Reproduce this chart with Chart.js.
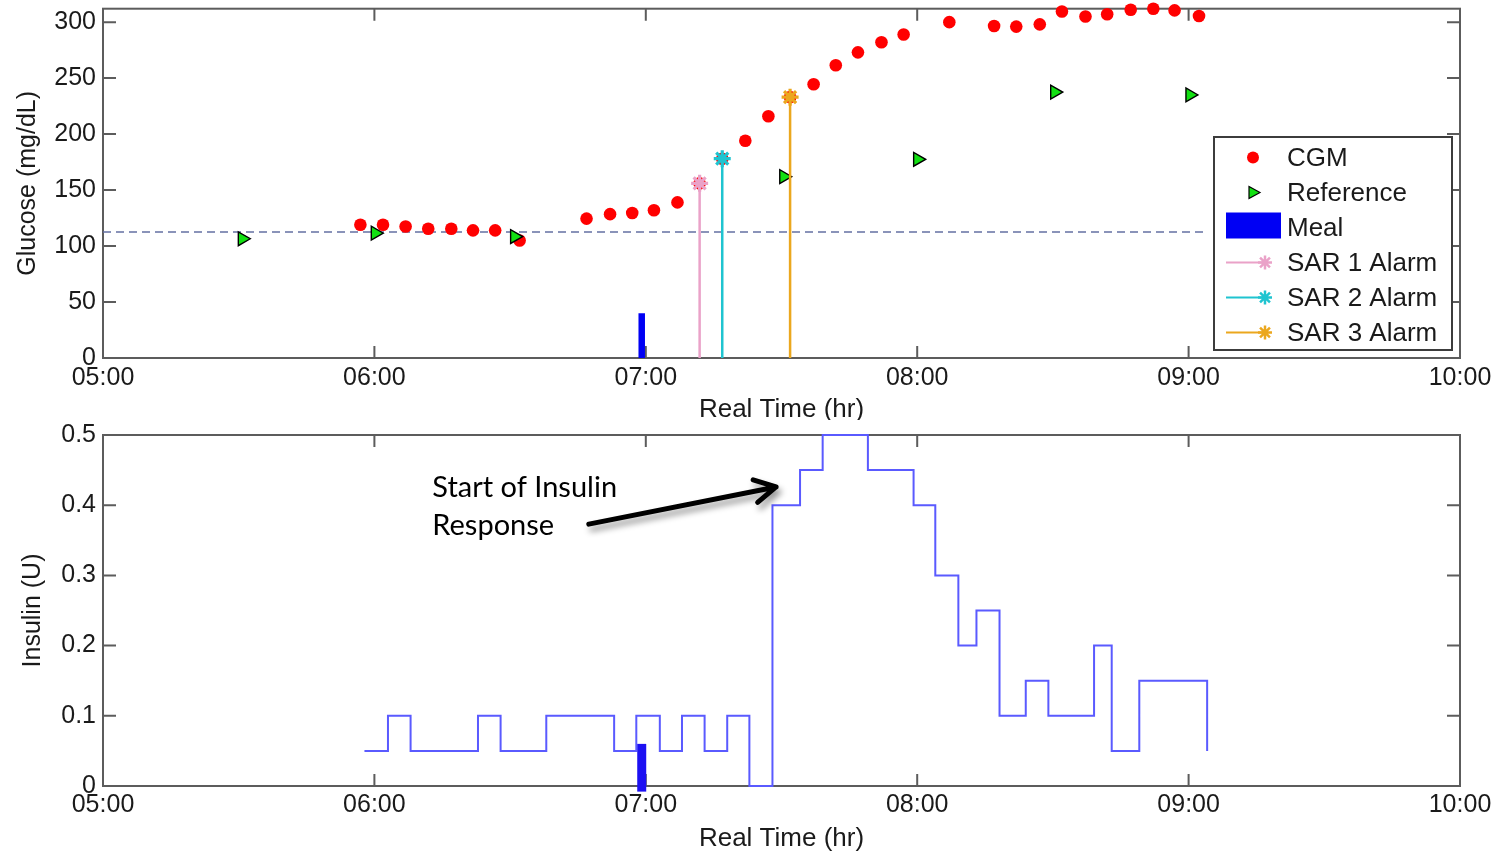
<!DOCTYPE html>
<html>
<head>
<meta charset="utf-8">
<script src="https://cdn.jsdelivr.net/npm/chart.js@4.4.0/dist/chart.umd.min.js"></script>
<style>
  html, body { margin: 0; padding: 0; background: #fff; }
  #wrap { position: relative; width: 1505px; height: 852px; overflow: hidden; }
  canvas { position: absolute; left: 0; }
  #glucose { top: -3px; }
  #insulin { top: 420px; }
</style>
</head>
<body>
<div id="wrap">
  <canvas id="glucose" width="1505" height="423"></canvas>
  <canvas id="insulin" width="1505" height="432"></canvas>
</div>
<script>
// time is in minutes after 05:00
const xTickValues = [0, 60, 120, 180, 240, 300];
const xTickLabels = ['05:00', '06:00', '07:00', '08:00', '09:00', '10:00'];
const glucoseTicks = [0, 50, 100, 150, 200, 250, 300];
const glucoseTickLabels = ['0', '50', '100', '150', '200', '250', '300'];
const insulinTicks = [0, 0.1, 0.2, 0.3, 0.4, 0.5];
const insulinTickLabels = ['0', '0.1', '0.2', '0.3', '0.4', '0.5'];

// CGM readings
const cgmTimes = [56.9, 61.9, 66.9, 71.9, 77, 81.8, 86.7, 92.1, 106.9, 112.1, 117, 121.8, 127, 131.9,
  136.9, 142, 147.1, 151.9, 157.1, 162, 166.9, 172.1, 177, 187.1, 197, 201.9, 207.1, 212, 217.2,
  222, 227.2, 232.2, 236.9, 242.3];
const cgmValues = [119, 119, 117.5, 115.5, 115.5, 114, 114, 105, 124.5, 128.5, 129.5, 132, 139, 156,
  178, 194, 216, 233, 244.5, 261.5, 273, 282, 289, 300, 296.5, 296, 298, 309.5, 305, 307, 311, 312,
  310.5, 305.5];

// reference (finger stick) readings
const refTimes = [30.8, 60.2, 91, 150.5, 180.1, 210.4, 240.3];
const refValues = [106.5, 111.5, 108.5, 162, 177.5, 237.5, 235];

// dashed target line
const targetTimes = [0, 243.7];
const targetValues = [112.5, 112.5];

// meal
const mealTime = 119.1;
const mealGlucoseMark = 40;
const mealInsulinMark = 0.06;
const mealInsulinBase = -0.008;

// SAR alarms
const alarmNames = ['SAR 1 Alarm', 'SAR 2 Alarm', 'SAR 3 Alarm'];
const alarmTimes = [131.9, 136.9, 151.9];
const alarmValues = [156, 178, 233];
const alarmColors = ['#eaa2c8', '#1fc4d0', '#eba71e'];

// insulin delivery (value holds until the next time)
const insulinTimes = [57.8, 63, 68, 82.9, 87.9, 98, 113, 117.9, 123.1, 128, 133, 138, 142.9, 148,
  154.1, 159.1, 169.1, 179.2, 184, 189.1, 193.1, 198.2, 204, 209, 219.1, 223, 229.1, 244.1];
const insulinDoses = [0.05, 0.1, 0.05, 0.1, 0.05, 0.1, 0.05, 0.1, 0.05, 0.1, 0.05, 0.1, 0, 0.4,
  0.45, 0.5, 0.45, 0.4, 0.3, 0.2, 0.25, 0.1, 0.15, 0.1, 0.2, 0.05, 0.15, 0.05];

// annotation
const noteLines = ['Start of Insulin', 'Response'];
const noteTime = 72.8;
const noteLineValues = [0.412, 0.357];
const arrowFrom = { x: 107.4, y: 0.373 };
const arrowTo = { x: 148.8, y: 0.426 };

const FONT = '"Liberation Sans", Arial, Helvetica, sans-serif';
const INK = '#1a1a1a';
const FRAME = '#5c5c5c';

const pts = (xs, ys) => xs.map((x, i) => ({ x: x, y: ys[i] }));

function xAxis(height, tickPad, titlePad) {
  return {
    type: 'linear', min: 0, max: 300,
    grid: { display: false, drawTicks: false },
    border: { display: false },
    afterBuildTicks: s => { s.ticks = xTickValues.map(v => ({ value: v })); },
    afterFit: s => { s.height = height; s.paddingLeft = 0; s.paddingRight = 0; },
    ticks: {
      autoSkip: false, maxRotation: 0, minRotation: 0, padding: tickPad, color: INK,
      font: { family: FONT, size: 25, lineHeight: 1.2 },
      callback: (v, i) => xTickLabels[i]
    },
    title: {
      display: true, text: 'Real Time (hr)', color: INK,
      font: { family: FONT, size: 26, lineHeight: 1 },
      padding: { top: 0, bottom: titlePad }
    }
  };
}

function yAxis(max, ticks, labels, title, titlePad) {
  return {
    type: 'linear', min: 0, max: max,
    grid: { display: false, drawTicks: false },
    border: { display: false },
    afterBuildTicks: s => { s.ticks = ticks.map(v => ({ value: v })); },
    afterFit: s => { s.width = 103; s.paddingTop = 0; s.paddingBottom = 0; },
    ticks: {
      autoSkip: false, padding: 7, color: INK,
      font: { family: FONT, size: 25, lineHeight: 1.2 },
      callback: (v, i) => labels[i]
    },
    title: {
      display: true, text: title, color: INK,
      font: { family: FONT, size: 25, lineHeight: 1 },
      padding: { top: titlePad, bottom: 0 }
    }
  };
}

// box around the axes with inward ticks on every side
const axesBox = {
  id: 'axesBox',
  beforeDatasetsDraw(chart) {
    const { ctx, chartArea: a, scales: { x, y } } = chart;
    ctx.save();
    ctx.strokeStyle = FRAME;
    ctx.lineWidth = 2;
    ctx.strokeRect(a.left, a.top, a.right - a.left, a.bottom - a.top);
    ctx.beginPath();
    x.ticks.forEach(t => {
      const px = x.getPixelForValue(t.value);
      if (px <= a.left + 1 || px >= a.right - 1) return;
      ctx.moveTo(px, a.bottom); ctx.lineTo(px, a.bottom - 12);
      ctx.moveTo(px, a.top); ctx.lineTo(px, a.top + 12);
    });
    y.ticks.forEach(t => {
      const py = y.getPixelForValue(t.value);
      if (py >= a.bottom - 1 || py <= a.top + 1) return;
      ctx.moveTo(a.left, py); ctx.lineTo(a.left + 13, py);
      ctx.moveTo(a.right, py); ctx.lineTo(a.right - 13, py);
    });
    ctx.stroke();
    ctx.restore();
  }
};

function drawStar(ctx, x, y, r, color) {
  ctx.save();
  ctx.strokeStyle = color;
  ctx.lineWidth = 2.5;
  ctx.beginPath();
  for (let k = 0; k < 4; k++) {
    const ang = k * Math.PI / 4;
    ctx.moveTo(x - Math.cos(ang) * r, y - Math.sin(ang) * r);
    ctx.lineTo(x + Math.cos(ang) * r, y + Math.sin(ang) * r);
  }
  ctx.stroke();
  ctx.restore();
}

// legend box in the lower right corner of the glucose axes
const glucoseLegend = {
  id: 'glucoseLegend',
  afterDraw(chart) {
    const { ctx, chartArea: a } = chart;
    const w = 238, h = 213;
    const x0 = a.right - 8 - w, y0 = a.bottom - 8 - h;
    ctx.save();
    ctx.fillStyle = '#fff';
    ctx.fillRect(x0, y0, w, h);
    ctx.strokeStyle = '#3c3c3c';
    ctx.lineWidth = 2;
    ctx.strokeRect(x0, y0, w, h);
    const items = chart.data.datasets.filter(d => d.legendSymbol);
    ctx.font = '26px ' + FONT;
    ctx.textBaseline = 'middle';
    ctx.textAlign = 'left';
    items.forEach((d, i) => {
      const cy = y0 + 20.5 + i * 35;
      if (d.legendSymbol === 'dot') {
        ctx.fillStyle = d.pointBackgroundColor;
        ctx.beginPath(); ctx.arc(x0 + 39, cy, 6, 0, Math.PI * 2); ctx.fill();
      } else if (d.legendSymbol === 'triangle') {
        ctx.fillStyle = d.pointBackgroundColor;
        ctx.strokeStyle = '#000';
        ctx.lineWidth = 1.2;
        ctx.beginPath();
        ctx.moveTo(x0 + 46, cy);
        ctx.lineTo(x0 + 35, cy - 6);
        ctx.lineTo(x0 + 35, cy + 6);
        ctx.closePath(); ctx.fill(); ctx.stroke();
      } else if (d.legendSymbol === 'bar') {
        ctx.fillStyle = d.borderColor;
        ctx.fillRect(x0 + 12, cy - 15, 55, 26);
      } else if (d.legendSymbol === 'stem') {
        ctx.strokeStyle = d.borderColor;
        ctx.lineWidth = 2;
        ctx.beginPath(); ctx.moveTo(x0 + 12, cy); ctx.lineTo(x0 + 50, cy); ctx.stroke();
        drawStar(ctx, x0 + 51, cy, 7, d.borderColor);
      }
      ctx.fillStyle = INK;
      ctx.fillText(d.label, x0 + 73, cy + 1);
    });
    ctx.restore();
  }
};

// text and arrow on the insulin axes
const insulinNote = {
  id: 'insulinNote',
  afterDraw(chart) {
    const { ctx, scales: { x, y } } = chart;
    ctx.save();
    ctx.fillStyle = '#000';
    ctx.font = '29px Lato, "Open Sans", sans-serif';
    ctx.textBaseline = 'alphabetic';
    ctx.textAlign = 'left';
    noteLines.forEach((s, i) => ctx.fillText(s, x.getPixelForValue(noteTime), y.getPixelForValue(noteLineValues[i])));

    const x1 = x.getPixelForValue(arrowFrom.x), y1 = y.getPixelForValue(arrowFrom.y);
    const x2 = x.getPixelForValue(arrowTo.x), y2 = y.getPixelForValue(arrowTo.y);
    const back = Math.atan2(y1 - y2, x1 - x2);
    const len = 24, spread = 0.5;
    ctx.shadowColor = 'rgba(0,0,0,0.4)';
    ctx.shadowBlur = 6;
    ctx.shadowOffsetX = 3;
    ctx.shadowOffsetY = 5;
    ctx.strokeStyle = '#000';
    ctx.lineWidth = 5;
    ctx.lineCap = 'round';
    ctx.lineJoin = 'round';
    ctx.beginPath();
    ctx.moveTo(x1, y1); ctx.lineTo(x2, y2);
    ctx.moveTo(x2 + Math.cos(back + spread) * len, y2 + Math.sin(back + spread) * len);
    ctx.lineTo(x2, y2);
    ctx.lineTo(x2 + Math.cos(back - spread) * len, y2 + Math.sin(back - spread) * len);
    ctx.stroke();
    ctx.restore();
  }
};

const glucoseDatasets = [
  {
    label: 'CGM', legendSymbol: 'dot',
    data: pts(cgmTimes, cgmValues),
    pointStyle: 'circle', pointRadius: 6.3, pointBorderWidth: 0,
    pointBackgroundColor: '#ff0000', pointBorderColor: '#ff0000',
    showLine: false, clip: false, order: 2
  },
  {
    label: 'Reference', legendSymbol: 'triangle',
    data: pts(refTimes, refValues),
    pointStyle: 'triangle', pointRotation: 90, pointRadius: 8, pointBorderWidth: 1.4,
    pointBackgroundColor: '#12e012', pointBorderColor: '#000',
    showLine: false, order: 1
  },
  {
    label: 'Meal', legendSymbol: 'bar',
    data: [{ x: mealTime, y: 0 }, { x: mealTime, y: mealGlucoseMark }],
    showLine: true, borderColor: '#0000f4', borderWidth: 6.5, borderCapStyle: 'butt',
    pointRadius: 0, order: 4
  }
];
alarmNames.forEach((name, i) => {
  glucoseDatasets.push({
    label: name, legendSymbol: 'stem',
    data: [{ x: alarmTimes[i], y: 0 }, { x: alarmTimes[i], y: alarmValues[i] }],
    showLine: true, borderColor: alarmColors[i], borderWidth: 2.5,
    pointStyle: 'star', pointRadius: [0, 8.5], pointBorderWidth: 3.2,
    pointBorderColor: alarmColors[i], pointBackgroundColor: alarmColors[i], order: 0
  });
});
glucoseDatasets.push({
  label: 'target',
  data: pts(targetTimes, targetValues),
  showLine: true, borderColor: '#6470a2', borderWidth: 1.5, borderDash: [8, 5],
  pointRadius: 0, order: 3
});

new Chart(document.getElementById('glucose'), {
  type: 'scatter',
  data: { datasets: glucoseDatasets },
  options: {
    responsive: false, animation: false, devicePixelRatio: 1,
    layout: { padding: { left: 0, right: 45, top: 7, bottom: 0 } },
    plugins: { legend: { display: false }, tooltip: { enabled: false } },
    scales: {
      x: xAxis(62, 5, -3),
      y: yAxis(312, glucoseTicks, glucoseTickLabels, 'Glucose (mg/dL)', 16)
    }
  },
  plugins: [axesBox, glucoseLegend]
});

new Chart(document.getElementById('insulin'), {
  type: 'scatter',
  data: {
    datasets: [
      {
        label: 'Insulin',
        data: pts(insulinTimes, insulinDoses),
        showLine: true, stepped: 'before', borderColor: '#5a5aff', borderWidth: 2,
        pointRadius: 0, clip: 4, order: 1
      },
      {
        label: 'Meal',
        data: [{ x: mealTime, y: mealInsulinBase }, { x: mealTime, y: mealInsulinMark }],
        showLine: true, borderColor: '#1c10f2', borderWidth: 9, borderCapStyle: 'butt',
        pointRadius: 0, clip: false, order: 0
      }
    ]
  },
  options: {
    responsive: false, animation: false, devicePixelRatio: 1,
    layout: { padding: { left: 0, right: 45, top: 15, bottom: 0 } },
    plugins: { legend: { display: false }, tooltip: { enabled: false } },
    scales: {
      x: xAxis(66, 4.5, 0),
      y: yAxis(0.5, insulinTicks, insulinTickLabels, 'Insulin (U)', 21)
    }
  },
  plugins: [axesBox, insulinNote]
});
</script>
</body>
</html>
